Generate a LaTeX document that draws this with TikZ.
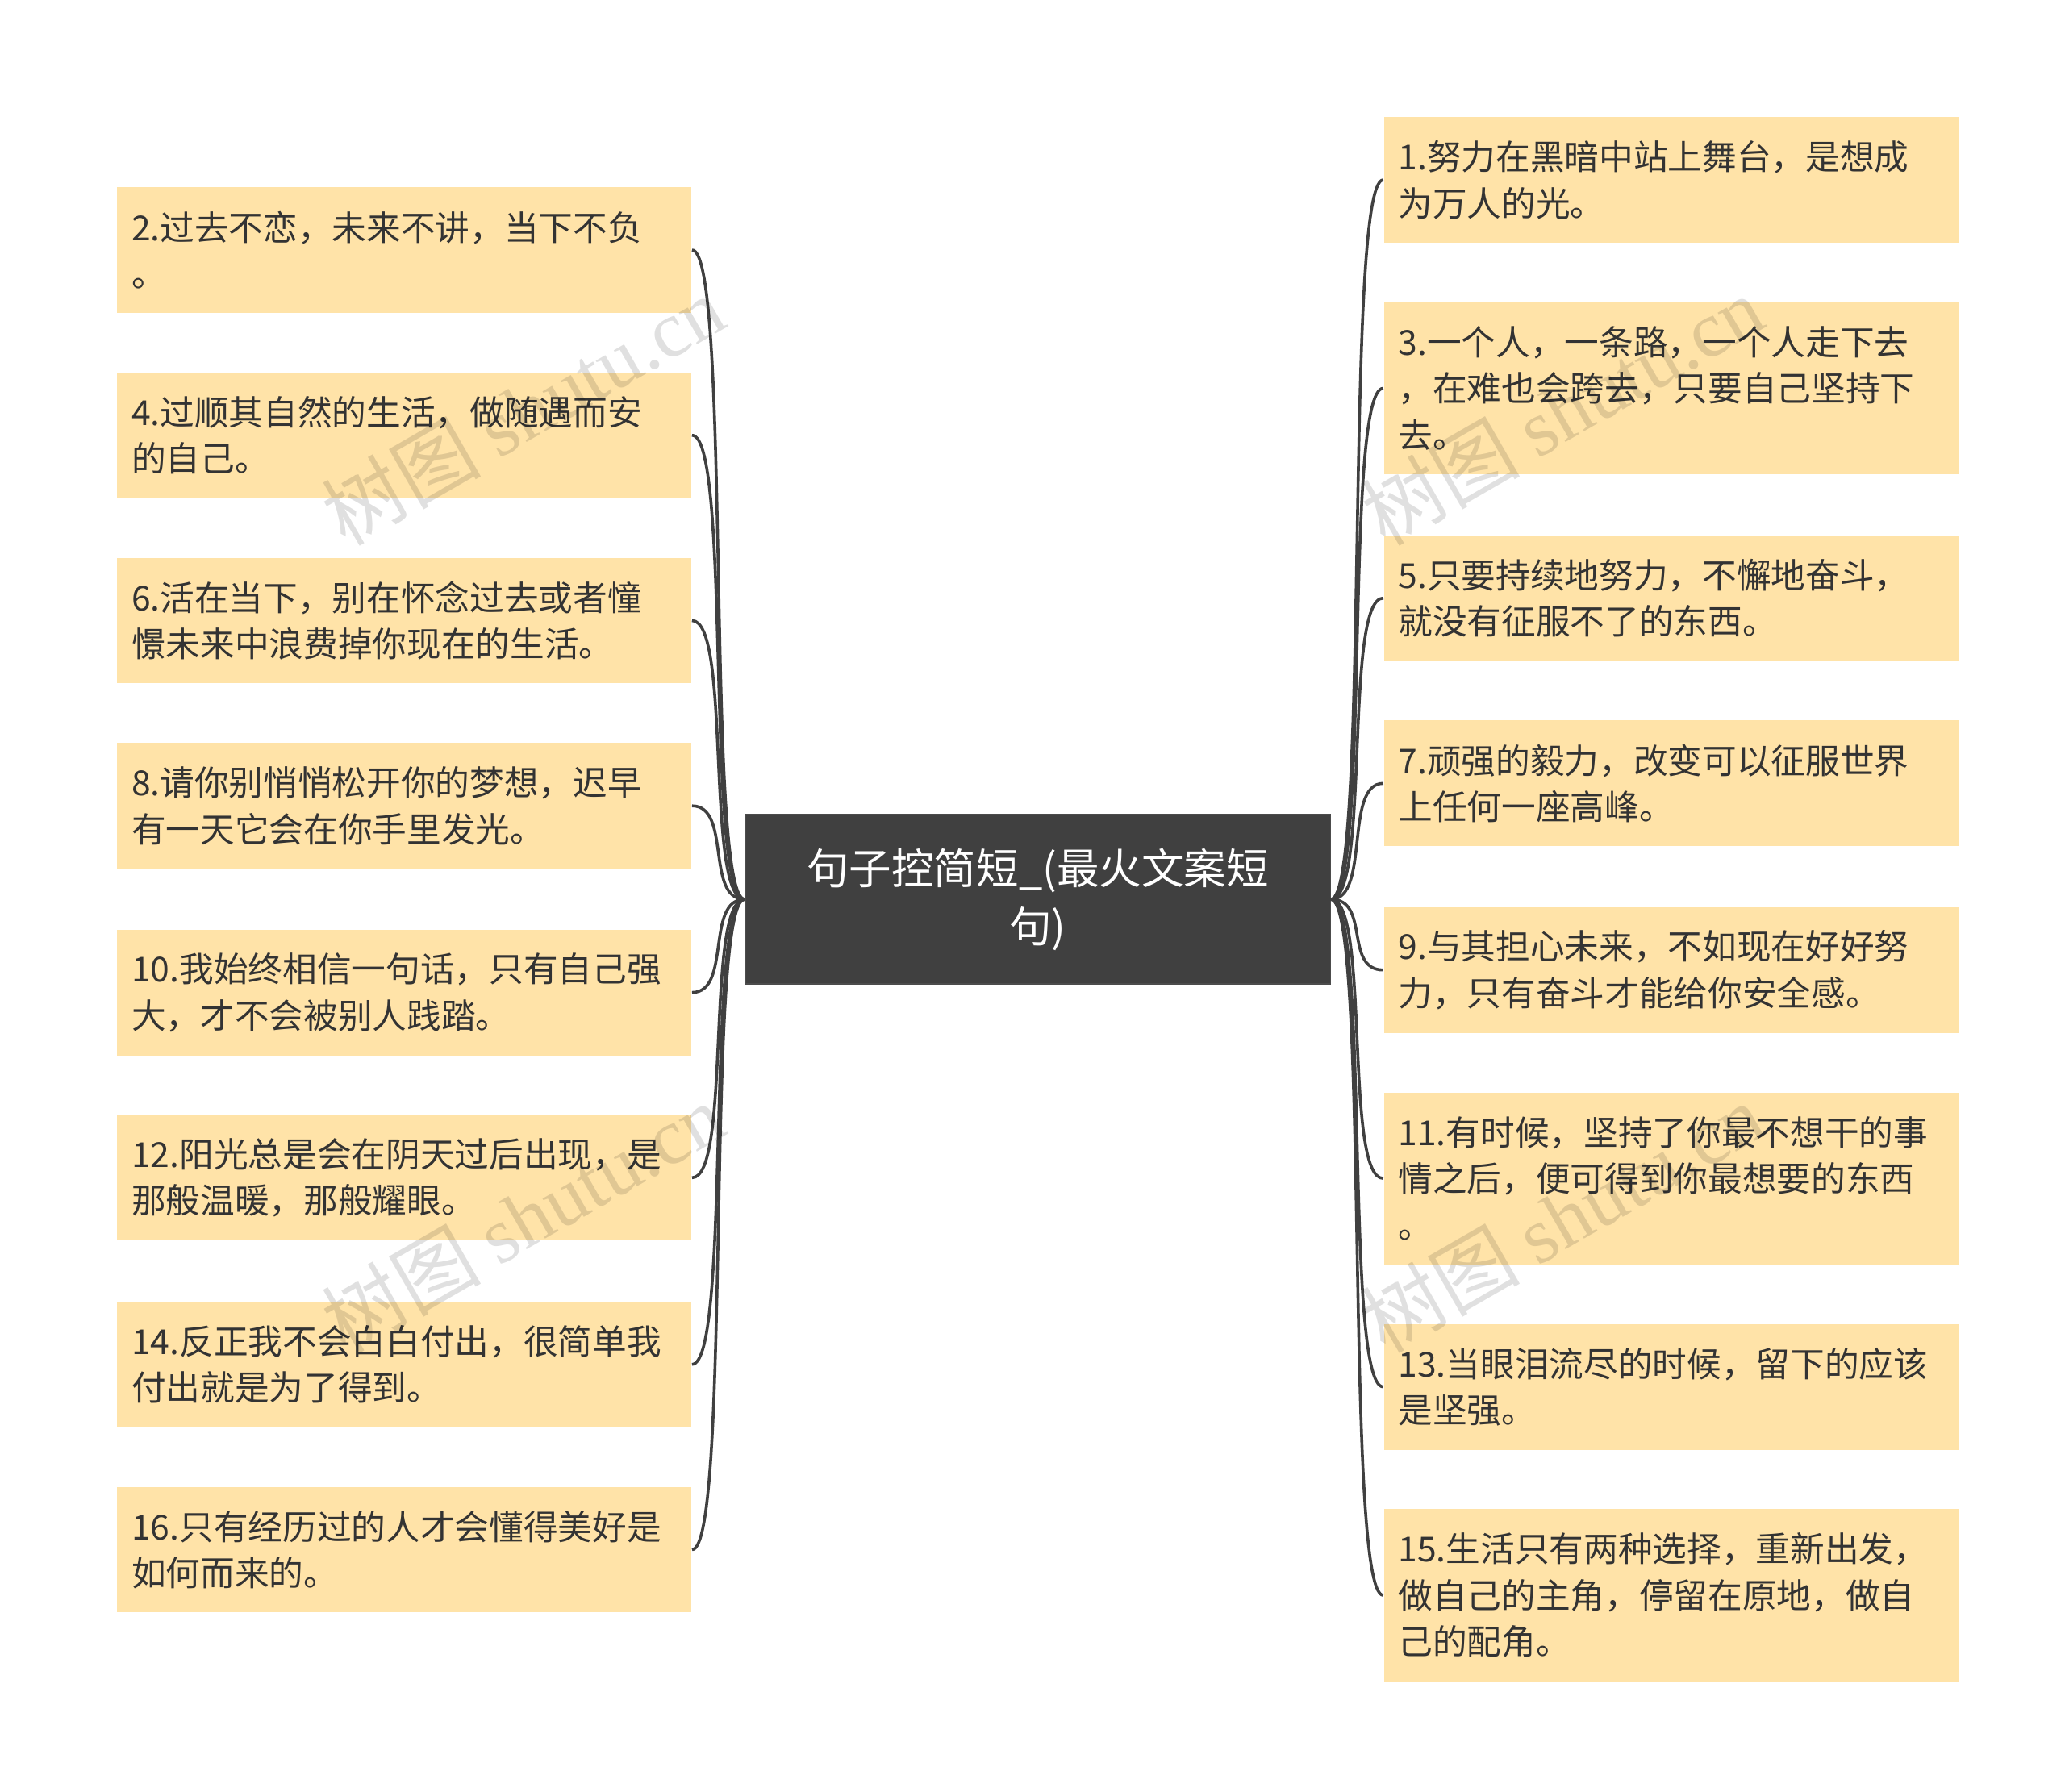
\documentclass[tikz,border=0pt]{standalone}
\usepackage{fontspec}
\setmainfont{Noto Sans CJK SC}
\newfontfamily\wmfont{Liberation Serif}
\usetikzlibrary{calc}
\definecolor{boxc}{HTML}{FFE3A8}
\definecolor{cen}{HTML}{404040}
\definecolor{txt}{HTML}{333333}
\begin{document}
\begin{tikzpicture}[x=0.5pt,y=-0.5pt,
 leaf/.style={fill=boxc,draw=none,anchor=north west,minimum width=217pt,text width=206pt,inner xsep=5.5pt,align=left,text=txt,font=\fontsize{13pt}{17.5pt}\selectfont},
 conn/.style={draw=cen,line width=1.1pt}]
\useasboundingbox (0,0) rectangle (1560,1354);
\node[fill=cen,draw=black!70,minimum width=221pt,minimum height=64pt,text width=200pt,align=center,text=white,font=\fontsize{16pt}{22pt}\selectfont] (c) at (784,679.5) {句子控简短\_(最火文案短\\句)};
\node[leaf,minimum height=47.5pt] (l1) at (88,141) {2.过去不恋，未来不讲，当下不负\\。};
\node[leaf,minimum height=47.5pt] (l2) at (88,281) {4.过顺其自然的生活，做随遇而安\\的自己。};
\node[leaf,minimum height=47.5pt] (l3) at (88,421) {6.活在当下，别在怀念过去或者憧\\憬未来中浪费掉你现在的生活。};
\node[leaf,minimum height=47.5pt] (l4) at (88,561) {8.请你别悄悄松开你的梦想，迟早\\有一天它会在你手里发光。};
\node[leaf,minimum height=47.5pt] (l5) at (88,702) {10.我始终相信一句话，只有自己强\\大，才不会被别人践踏。};
\node[leaf,minimum height=47.5pt] (l6) at (88,842) {12.阳光总是会在阴天过后出现，是\\那般温暖，那般耀眼。};
\node[leaf,minimum height=47.5pt] (l7) at (88,983) {14.反正我不会白白付出，很简单我\\付出就是为了得到。};
\node[leaf,minimum height=47.5pt] (l8) at (88,1123) {16.只有经历过的人才会懂得美好是\\如何而来的。};
\node[leaf,minimum height=47.5pt] (r1) at (1045,88) {1.努力在黑暗中站上舞台，是想成\\为万人的光。};
\node[leaf,minimum height=65pt] (r2) at (1045,228) {3.一个人，一条路，一个人走下去\\，在难也会跨去，只要自己坚持下\\去。};
\node[leaf,minimum height=47.5pt] (r3) at (1045,404) {5.只要持续地努力，不懈地奋斗，\\就没有征服不了的东西。};
\node[leaf,minimum height=47.5pt] (r4) at (1045,544) {7.顽强的毅力，改变可以征服世界\\上任何一座高峰。};
\node[leaf,minimum height=47.5pt] (r5) at (1045,685) {9.与其担心未来，不如现在好好努\\力，只有奋斗才能给你安全感。};
\node[leaf,minimum height=65pt] (r6) at (1045,825) {11.有时候，坚持了你最不想干的事\\情之后，便可得到你最想要的东西\\。};
\node[leaf,minimum height=47.5pt] (r7) at (1045,1000) {13.当眼泪流尽的时候，留下的应该\\是坚强。};
\node[leaf,minimum height=65pt] (r8) at (1045,1140) {15.生活只有两种选择，重新出发，\\做自己的主角，停留在原地，做自\\己的配角。};
\foreach \n in {l1,l2,l3,l4,l5,l6,l7,l8}
  \draw[conn] (c.west) .. controls +(-30,0) and +(30,0) .. (\n.east);
\foreach \n in {r1,r2,r3,r4,r5,r6,r7,r8}
  \draw[conn] (c.east) .. controls +(30,0) and +(-30,0) .. (\n.west);
\foreach \x/\y in {395/310,395/920,1180/310,1180/920}
  \node[rotate=30,text=black,opacity=0.12,font=\fontsize{30pt}{34pt}\selectfont] at (\x,\y) {树图 {\wmfont shutu.cn}};
\end{tikzpicture}
\end{document}
